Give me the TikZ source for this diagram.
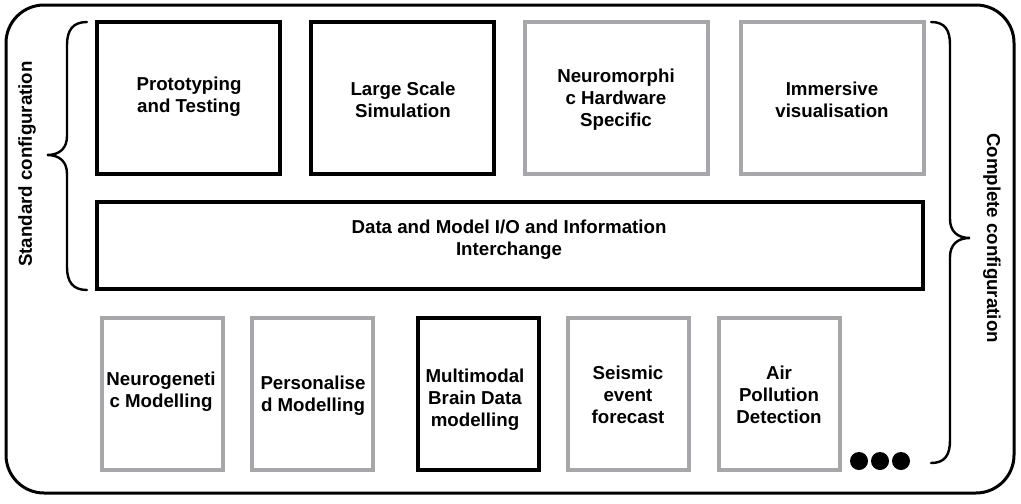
\documentclass[tikz,border=0pt]{standalone}
\usepackage{fontspec}
\setmainfont{Liberation Sans}
\definecolor{bgrey}{RGB}{166,167,170}
\begin{document}
\begin{tikzpicture}[x=0.5pt,y=-0.5pt,
  font=\fontsize{9.35pt}{11pt}\selectfont\bfseries,
  blk/.style={draw=black,line width=2pt,fill=white,inner sep=0pt,align=center},
  gry/.style={draw=bgrey,line width=2pt,fill=white,inner sep=0pt,align=center},
  topbox/.style={minimum width=91.5pt,minimum height=76pt},
  botbox/.style={minimum width=60.5pt,minimum height=76pt},
  lbl/.style={inner sep=0pt,align=center,yshift=-1.4pt},
  side/.style={inner sep=0pt,align=center},
  brace/.style={draw=black,line width=1.2pt,line cap=round},
  dot/.style={circle,fill=black,inner sep=0pt,minimum size=9pt}]
\useasboundingbox (0,0) rectangle (1021,503);
% outer frame
\draw[line width=1.5pt,rounded corners=19pt] (6,5) rectangle (1014,493);
% top row
\node[blk,topbox] (proto) at (188.5,98) {};
\node[lbl] (protot) at (189,94) {Prototyping\\and Testing};
\node[blk,topbox] (large) at (402.5,98) {};
\node[lbl] (larget) at (403,97) {Large Scale\\Simulation};
\node[gry,topbox] (neuro) at (616,98) {};
\node[lbl] (neurot) at (616,97) {Neuromorphi\\c Hardware\\Specific};
\node[gry,topbox] (imm) at (832,98) {};
\node[lbl] (immt) at (832,97) {Immersive\\visualisation};
% data row
\node[blk,minimum width=413pt,minimum height=43.5pt] (data) at (510,245.5) {};
\node[lbl] (datat) at (509,237) {Data and Model I/O and Information\\Interchange};
% bottom row
\node[gry,botbox] (ngen) at (162,393.5) {};
\node[lbl] (ngent) at (161,389) {Neurogeneti\\c Modelling};
\node[gry,botbox] (pers) at (312.5,393.5) {};
\node[lbl] (perst) at (313,393) {Personalise\\d Modelling};
\node[blk,botbox] (mm) at (478,393.5) {};
\node[lbl] (mmt) at (475,397) {Multimodal\\Brain Data\\modelling};
\node[gry,botbox] (seis) at (628.5,393.5) {};
\node[lbl] (seist) at (628,392) {Seismic\\event\\forecast};
\node[gry,botbox] (air) at (779,393.5) {};
\node[lbl] (airt) at (779,392) {Air\\Pollution\\Detection};
% dots
\node[dot] (d1) at (859,461) {};
\node[dot] (d2) at (880,461) {};
\node[dot] (d3) at (901,461) {};
% braces
\coordinate (lbt) at (87,22);
\coordinate (lbb) at (87,290);
\draw[brace] (lbt) .. controls (73,22) and (67,30) .. (67,45) -- (67,136)
  .. controls (67,148) and (60,155) .. (47,155)
  .. controls (60,155) and (67,162) .. (67,174) -- (67,267)
  .. controls (67,282) and (73,290) .. (lbb);
\coordinate (rbt) at (931,22);
\coordinate (rbb) at (931,463);
\draw[brace] (rbt) .. controls (945,22) and (950,30) .. (950,45) -- (950,219)
  .. controls (950,231) and (957,238) .. (970,238)
  .. controls (957,238) and (950,245) .. (950,257) -- (950,440)
  .. controls (950,455) and (945,463) .. (rbb);
% side labels
\node[side,rotate=90] (std) at (27,164) {Standard configuration};
\node[side,rotate=-90] (cmp) at (992,238) {Complete configuration};
\end{tikzpicture}
\end{document}
